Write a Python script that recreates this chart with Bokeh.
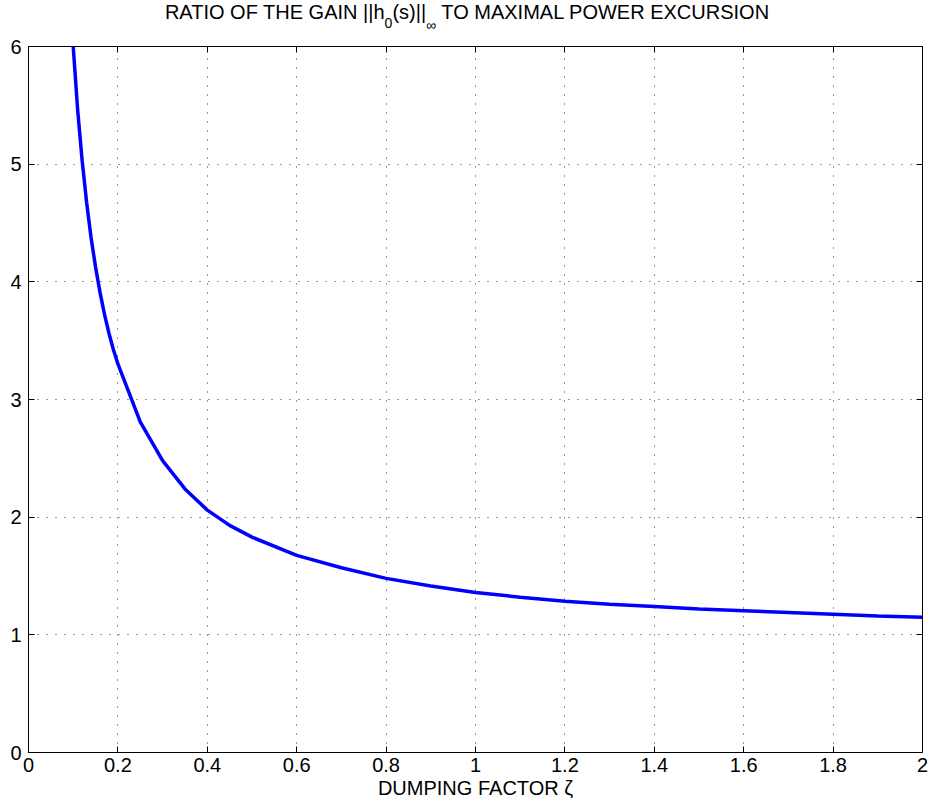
from bokeh.plotting import figure
from bokeh.models import LinearAxis, FixedTicker, Range1d, Div
from bokeh.layouts import column
from bokeh.embed import file_html
from bokeh.resources import INLINE

# data
zeta = [0.1, 0.11, 0.12, 0.13, 0.14, 0.15, 0.16, 0.17, 0.18, 0.19, 0.2,
        0.25, 0.3, 0.35, 0.4, 0.45, 0.5, 0.6, 0.7, 0.8, 0.9,
        1.0, 1.1, 1.2, 1.3, 1.4, 1.5, 1.6, 1.7, 1.8, 1.9, 2.0]
ratio = [6.0, 5.46, 5.03, 4.675, 4.375, 4.125, 3.91, 3.723, 3.563, 3.423, 3.303,
         2.81, 2.48, 2.24, 2.06, 1.93, 1.83, 1.675, 1.57, 1.48, 1.415,
         1.36, 1.32, 1.285, 1.26, 1.24, 1.22, 1.205, 1.19, 1.175, 1.16, 1.15]
x_ticks = [0, 0.2, 0.4, 0.6, 0.8, 1.0, 1.2, 1.4, 1.6, 1.8, 2.0]
x_tick_labels = ["0", "0.2", "0.4", "0.6", "0.8", "1", "1.2", "1.4", "1.6", "1.8", "2"]
y_ticks = [0, 1, 2, 3, 4, 5, 6]

FONT = "Liberation Sans"
FS = "20px"
TITLE_H = 30

title = Div(
    text=('RATIO OF THE GAIN ||h<span style="font-size:14px;position:relative;top:9px;">0</span>'
          '(s)||<span style="font-size:14px;position:relative;top:11px;">∞</span>'
          ' TO MAXIMAL POWER EXCURSION'),
    width=934, height=TITLE_H, margin=(0, 0, 0, 0),
    styles={"text-align": "center", "font-family": FONT, "font-size": "20px",
            "line-height": "20px", "padding-top": "2px", "color": "black",
            "width": "934px", "white-space": "nowrap", "padding-left": "0px"},
)

p = figure(width=934, height=807 - TITLE_H, output_backend="svg", toolbar_location=None,
           x_range=Range1d(0, 2), y_range=Range1d(0, 6),
           min_border_left=28, min_border_right=12, min_border_top=46 - TITLE_H,
           min_border_bottom=55, x_axis_label="DUMPING FACTOR ζ", margin=(0, 0, 0, 0))
p.background_fill_color = "white"
p.border_fill_color = "white"
p.outline_line_color = "black"
p.outline_line_width = 1

p.line(zeta, ratio, line_color="#0000ff", line_width=3.5)

# axes
for ax in (p.xaxis[0], p.yaxis[0]):
    ax.major_tick_in = 6
    ax.major_tick_out = 0
    ax.minor_tick_line_color = None
    ax.axis_line_color = "black"
    ax.major_tick_line_color = "black"
    ax.major_label_text_font = FONT
    ax.major_label_text_font_size = FS
    ax.major_label_text_color = "black"
    ax.axis_label_text_font = FONT
    ax.axis_label_text_font_size = FS
    ax.axis_label_text_font_style = "normal"
    ax.axis_label_text_color = "black"

p.xaxis[0].ticker = FixedTicker(ticks=x_ticks)
p.xaxis[0].major_label_overrides = {t: l for t, l in zip(x_ticks, x_tick_labels)}
p.xaxis[0].major_label_standoff = 5
p.xaxis[0].axis_label_standoff = 2
p.yaxis[0].ticker = FixedTicker(ticks=y_ticks)
p.yaxis[0].major_label_standoff = 7

for loc, tk in (("above", x_ticks), ("right", y_ticks)):
    ax = LinearAxis(ticker=FixedTicker(ticks=tk), major_tick_in=6, major_tick_out=0,
                    minor_tick_line_color=None, major_label_text_font_size="1px",
                    major_label_text_alpha=0, major_label_standoff=0,
                    axis_line_color="black", major_tick_line_color="black")
    p.add_layout(ax, loc)

# grid
for g in (p.xgrid[0], p.ygrid[0]):
    g.grid_line_color = "#333333"
    g.grid_line_dash = "1 8"
    g.grid_line_width = 1
p.xgrid[0].ticker = FixedTicker(ticks=x_ticks)
p.ygrid[0].ticker = FixedTicker(ticks=y_ticks)

layout = column(title, p, spacing=0, margin=(0, 0, 0, 0))
open("out.html", "w").write(file_html(layout, INLINE))
